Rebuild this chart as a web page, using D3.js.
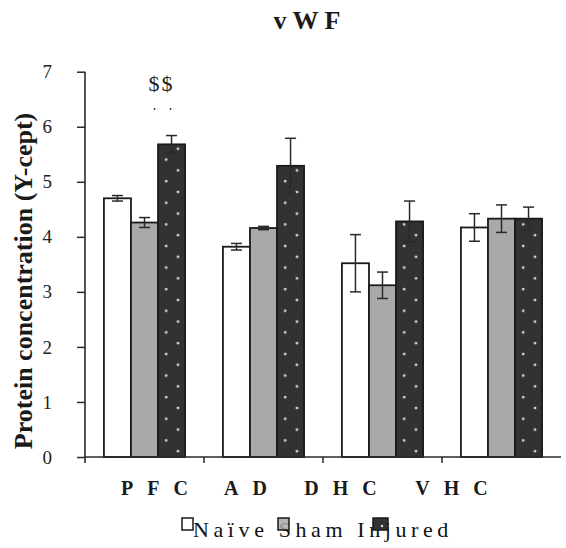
<!DOCTYPE html>
<html>
<head>
<meta charset="utf-8">
<script src="https://cdn.jsdelivr.net/npm/d3@7"></script>
<style>
  html, body { margin: 0; padding: 0; background: #fff; }
  svg { display: block; font-family: "Liberation Serif", "Times New Roman", serif; }
</style>
</head>
<body>
<svg id="chart" width="566" height="548"></svg>
<script>
// Brain regions and groups
const categories = ["PFC", "AD", "DHC", "VHC"];
const series = ["Naïve", "Sham", "Injured"];

// Mean protein concentration (Y-cept) per region
const naive   = [4.70, 3.82, 3.52, 4.17];
const sham    = [4.26, 4.16, 3.12, 4.33];
const injured = [5.68, 5.29, 4.28, 4.33];

// Error (± half-range) per region
const naiveErr   = [0.05, 0.06, 0.52, 0.25];
const shamErr    = [0.09, 0.03, 0.24, 0.25];
const injuredErr = [0.16, 0.50, 0.37, 0.21];

const yTicks = [0, 1, 2, 3, 4, 5, 6, 7];
const significance = "$$";

const values = [naive, sham, injured];
const errors = [naiveErr, shamErr, injuredErr];
const rows = [];
categories.forEach((c, i) => series.forEach((s, j) => {
  rows.push({ cat: c, ser: s, ci: i, si: j, v: values[j][i], e: errors[j][i] });
}));

const svg = d3.select("#chart");
const fills = { "Naïve": "#ffffff", "Sham": "#a9a9a9", "Injured": "#323232" };

const x0 = d3.scaleBand().domain(categories).range([85, 561]).padding(0);
const x1 = d3.scaleBand().domain(series).range([0, x0.bandwidth()])
  .paddingInner(0).paddingOuter(0.7);
const y = d3.scaleLinear().domain([0, 7]).range([457, 71.7]);

// Dotted fill, one pattern per region so dots line up with each bar
const defs = svg.append("defs");
categories.forEach((c, i) => {
  const bx = x0(c) + x1("Injured");
  const w = x1.bandwidth();
  const p = defs.append("pattern")
    .attr("id", "dots" + i)
    .attr("patternUnits", "userSpaceOnUse")
    .attr("x", bx).attr("y", y(0))
    .attr("width", w).attr("height", 21.6);
  p.append("rect").attr("width", w).attr("height", 21.6).attr("fill", fills.Injured);
  p.append("circle").attr("cx", w * 0.3).attr("cy", 5).attr("r", 1.3).attr("fill", "#e6e6e6");
  p.append("circle").attr("cx", w * 0.74).attr("cy", 15.8).attr("r", 1.3).attr("fill", "#e6e6e6");
});
const legendPat = defs.append("pattern")
  .attr("id", "dotsLegend").attr("patternUnits", "userSpaceOnUse")
  .attr("x", 373).attr("y", 518).attr("width", 15).attr("height", 13);
legendPat.append("rect").attr("width", 15).attr("height", 13).attr("fill", fills.Injured);
legendPat.append("circle").attr("cx", 9).attr("cy", 8).attr("r", 1.2).attr("fill", "#e6e6e6");

// Title
svg.append("text")
  .attr("x", 310).attr("y", 29)
  .attr("text-anchor", "middle")
  .attr("font-size", 26).attr("font-weight", "bold")
  .attr("letter-spacing", 6)
  .attr("fill", "#1a1a1a")
  .text("vWF");

// Bars
const fillFor = d => d.ser === "Injured" ? `url(#dots${d.ci})` : fills[d.ser];
svg.append("g").selectAll("rect").data(rows).join("rect")
  .attr("x", d => x0(d.cat) + x1(d.ser))
  .attr("y", d => y(d.v))
  .attr("width", x1.bandwidth())
  .attr("height", d => y(0) - y(d.v))
  .attr("fill", fillFor)
  .attr("stroke", "#1a1a1a")
  .attr("stroke-width", 1.8);

// Error bars
const eb = svg.append("g").attr("stroke", "#2a2a2a").attr("stroke-width", 1.5);
rows.forEach(d => {
  const cx = x0(d.cat) + x1(d.ser) + x1.bandwidth() / 2;
  const cap = 5.5;
  eb.append("line").attr("x1", cx).attr("x2", cx).attr("y1", y(d.v + d.e)).attr("y2", y(d.v - d.e));
  eb.append("line").attr("x1", cx - cap).attr("x2", cx + cap).attr("y1", y(d.v + d.e)).attr("y2", y(d.v + d.e));
  eb.append("line").attr("x1", cx - cap).attr("x2", cx + cap).attr("y1", y(d.v - d.e)).attr("y2", y(d.v - d.e));
});

// Significance mark over the PFC injured bar
const sigX = x0("PFC") + x1("Injured") + x1.bandwidth() / 2 - 11;
svg.append("text")
  .attr("x", sigX + 1).attr("y", 91)
  .attr("text-anchor", "middle")
  .attr("font-size", 22).attr("letter-spacing", 2)
  .attr("fill", "#222")
  .text(significance);
[-6, 10].forEach(dx => {
  svg.append("circle").attr("cx", sigX + dx).attr("cy", 109).attr("r", 0.9).attr("fill", "#333");
});

// Y axis
const yAxis = d3.axisLeft(y).tickValues(yTicks).tickFormat(d3.format("d"))
  .tickSizeInner(8).tickSizeOuter(0).tickPadding(25);
const gy = svg.append("g").attr("transform", "translate(85,0)").call(yAxis);
gy.select(".domain").attr("stroke", "#2a2a2a").attr("stroke-width", 1.6)
  .attr("d", `M0,${y(7)}V${y(0) + 6}`);
gy.selectAll(".tick line").attr("stroke", "#2a2a2a").attr("stroke-width", 1.5);
gy.selectAll(".tick text")
  .attr("font-family", "Liberation Serif, serif")
  .attr("font-size", 19).attr("fill", "#222");

// X axis line with ticks at region boundaries
const gx = svg.append("g");
gx.append("line")
  .attr("x1", x0.range()[0]).attr("x2", x0.range()[1])
  .attr("y1", y(0)).attr("y2", y(0))
  .attr("stroke", "#2a2a2a").attr("stroke-width", 1.6);
categories.slice(1).forEach(c => {
  gx.append("line").attr("x1", x0(c)).attr("x2", x0(c))
    .attr("y1", y(0)).attr("y2", y(0) + 6)
    .attr("stroke", "#2a2a2a").attr("stroke-width", 1.5);
});

// Region labels, letter-spaced
const labelShift = { PFC: 10, AD: -18, DHC: -42, VHC: -50 };
const ls = 14;
svg.append("g").selectAll("text").data(categories).join("text")
  .attr("x", d => x0(d) + x0.bandwidth() / 2 + labelShift[d] + ls / 2)
  .attr("y", 495)
  .attr("text-anchor", "middle")
  .attr("font-size", 20).attr("font-weight", "bold")
  .attr("letter-spacing", ls)
  .attr("fill", "#1a1a1a")
  .text(d => d);

// Y axis title
svg.append("text")
  .attr("transform", "translate(32,281) rotate(-90)")
  .attr("text-anchor", "middle")
  .attr("font-size", 26).attr("font-weight", "bold")
  .attr("fill", "#1a1a1a")
  .text("Protein concentration (Y-cept)");

// Legend
const lg = svg.append("g");
lg.append("text")
  .attr("x", 193).attr("y", 537)
  .attr("font-size", 22).attr("letter-spacing", 4.6)
  .attr("fill", "#111")
  .text(series.join(" "));
const boxes = [
  { s: "Naïve", x: 182, w: 11, fill: fills["Naïve"] },
  { s: "Sham", x: 278, w: 11, fill: fills.Sham },
  { s: "Injured", x: 373, w: 15, fill: "url(#dotsLegend)" }
];
lg.selectAll("rect").data(boxes).join("rect")
  .attr("x", d => d.x).attr("y", 518)
  .attr("width", d => d.w).attr("height", 12)
  .attr("fill", d => d.fill)
  .attr("fill-opacity", d => d.s === "Sham" ? 0.85 : 1)
  .attr("stroke", "#1a1a1a").attr("stroke-width", 1.5);
</script>
</body>
</html>
